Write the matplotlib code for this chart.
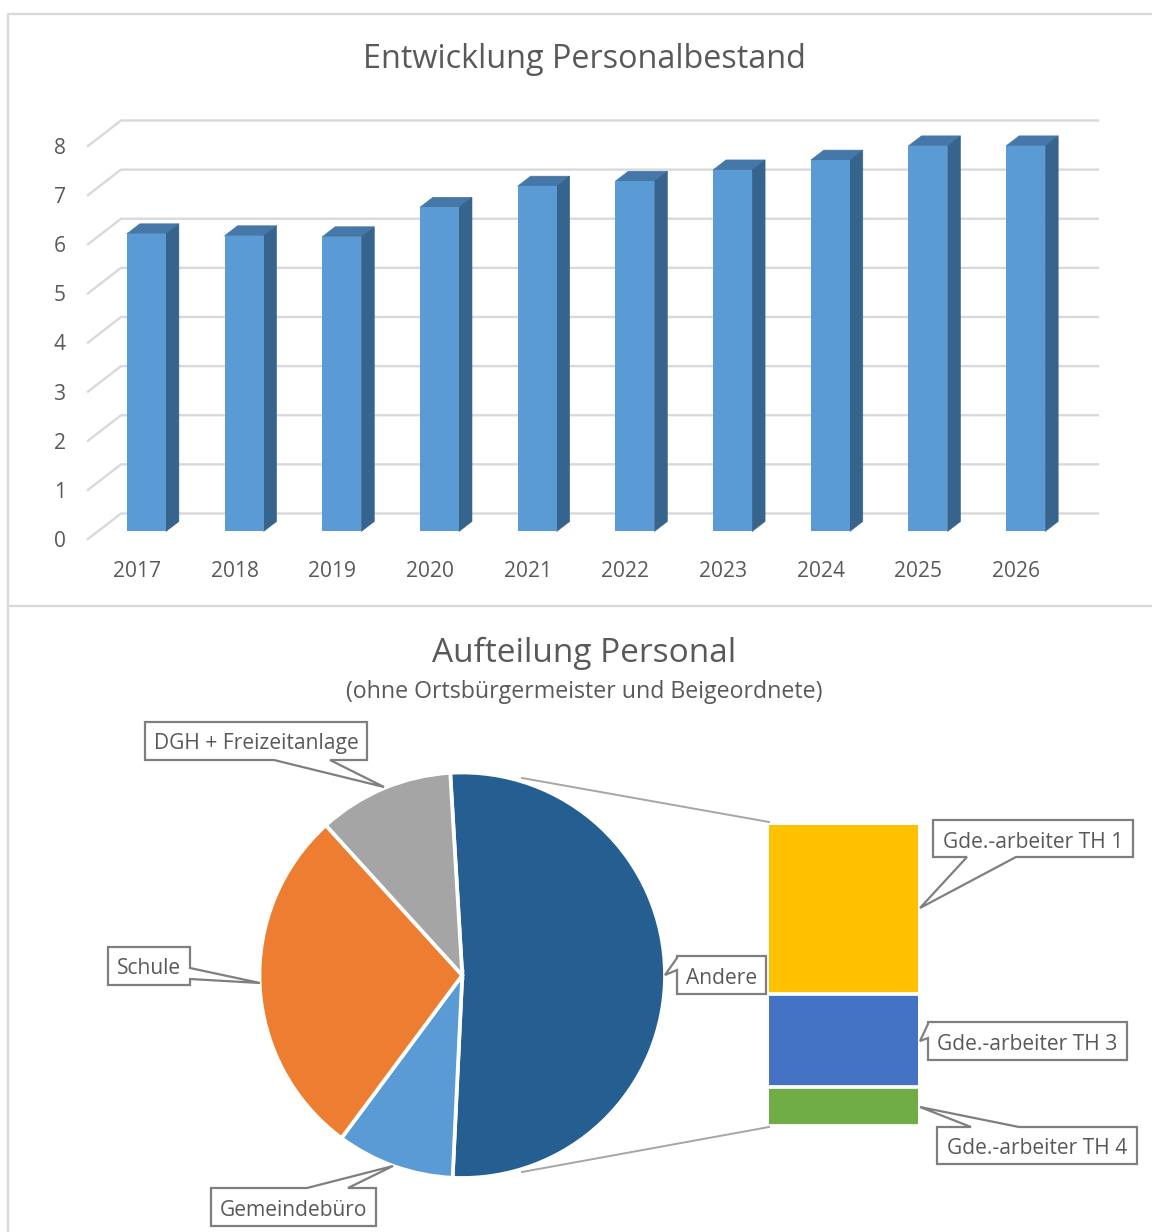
import matplotlib
matplotlib.use("Agg")
import matplotlib.pyplot as plt
from matplotlib.patches import Polygon
import numpy as np

plt.rcParams["font.family"] = ["Open Sans", "DejaVu Sans"]

years = ["2017", "2018", "2019", "2020", "2021", "2022", "2023", "2024", "2025", "2026"]
personal = [6.06, 6.02, 6.00, 6.60, 7.03, 7.13, 7.36, 7.56, 7.85, 7.85]
y_ticks = [0, 1, 2, 3, 4, 5, 6, 7, 8]

pie_labels = ["Andere", "Gemeindebüro", "Schule", "DGH + Freizeitanlage"]
pie_values = [51.7, 9.4, 28.1, 10.8]
pie_colors = ["#255E91", "#5B9BD5", "#ED7D31", "#A5A5A5"]

stack_labels = ["Gde.-arbeiter TH 1", "Gde.-arbeiter TH 3", "Gde.-arbeiter TH 4"]
stack_values = [29.0, 16.0, 6.7]
stack_colors = ["#FFC000", "#4472C4", "#70AD47"]

W, H = 1152, 1232
TEXT = "#595959"
GRID = "#D9D9D9"
CALLOUT = "#7F7F7F"
LABEL_SIZE = 15.1


def px_axes(fig, left, top, right, bottom):
    return fig.add_axes([left / W, 1 - bottom / H, (right - left) / W, (bottom - top) / H])


fig = plt.figure(figsize=(W / 100, H / 100), dpi=100, facecolor="white")

# --- Saeulen mit 3D-Optik ---
ax = px_axes(fig, 88, 146, 1065, 539)
ax.set_xlim(-0.5, 9.5)
ax.set_ylim(0, 8)
ax.patch.set_alpha(0)
for s in ax.spines.values():
    s.set_visible(False)

ux = 97.7
uy = 49.1
depth_x = 33 / ux
depth_y = 25.5 / uy
for v in y_ticks:
    ax.plot([-0.5, -0.5 + depth_x, 9.5 + depth_x], [v, v + depth_y, v + depth_y],
            color=GRID, lw=1.7, clip_on=False, zorder=1, solid_joinstyle="miter")

x = np.arange(len(years))
bar_w = 0.4
front_dx = 9.5 / ux
front_dy = 7.5 / uy
bar_dx = 13 / ux
bar_dy = 10 / uy
for xi, v in zip(x, personal):
    l = xi + front_dx - bar_w / 2
    r = xi + front_dx + bar_w / 2
    t = v + front_dy
    ax.add_patch(Polygon([(l, t), (l + bar_dx, t + bar_dy), (r + bar_dx, t + bar_dy), (r, t)],
                         closed=True, fc="#4577A8", ec="#4577A8", lw=0.4, zorder=2, clip_on=False))
    ax.add_patch(Polygon([(r, front_dy), (r + bar_dx, front_dy + bar_dy), (r + bar_dx, t + bar_dy), (r, t)],
                         closed=True, fc="#37648C", ec="#37648C", lw=0.4, zorder=2, clip_on=False))
ax.bar(x + front_dx, personal, bottom=front_dy, width=bar_w, color="#5B9BD5", zorder=3, clip_on=False)

ax.set_xticks(x, years)
ax.set_yticks(y_ticks)
ax.tick_params(axis="both", length=0, labelsize=LABEL_SIZE, labelcolor=TEXT)
ax.tick_params(axis="x", pad=15.5)
ax.tick_params(axis="y", pad=16)

# --- Kreis ---
ax2 = px_axes(fig, 259.5, 772.5, 665, 1178)
ax2.pie(pie_values, colors=pie_colors, startangle=93.4, counterclock=False, radius=1,
        wedgeprops={"edgecolor": "white", "linewidth": 2.7})
ax2.set_xlim(-1, 1)
ax2.set_ylim(-1, 1)

# --- gestapelte Saeule rechts ---
ax3 = px_axes(fig, 769, 825, 918, 1126)
ax3.set_xlim(-0.5, 0.5)
ax3.set_ylim(sum(stack_values), 0)
bottom = 0
for val, col in zip(stack_values, stack_colors):
    ax3.bar(0, val, bottom=bottom, width=1, color=col)
    bottom += val
    ax3.axhline(bottom, color="white", lw=2.7)
ax3.axis("off")

# --- Rahmen, Titel, Callouts in Pixelkoordinaten ---
ov = fig.add_axes([0, 0, 1, 1], zorder=5)
ov.set_xlim(0, W)
ov.set_ylim(H, 0)
ov.axis("off")

ov.plot([8, 8, W], [605, 14, 14], color=GRID, lw=1.6)
ov.plot([W, 8, 8], [605.5, 605.5, H], color=GRID, lw=1.6)
ov.plot([522, 769], [778, 822], color="#A6A6A6", lw=1.4)
ov.plot([522, 769], [1172, 1127], color="#A6A6A6", lw=1.4)

ov.text(584, 60, "Entwicklung Personalbestand", fontsize=23.3, color=TEXT, ha="center", va="center")
ov.text(584, 653, "Aufteilung Personal", fontsize=24, color=TEXT, ha="center", va="center")
ov.text(584, 692, "(ohne Ortsbürgermeister und Beigeordnete)", fontsize=16.7, color=TEXT, ha="center", va="center")


def callout(text, pts, cx, cy):
    ov.add_patch(Polygon(pts, closed=True, fc="white", ec=CALLOUT, lw=1.6, joinstyle="miter"))
    ov.text(cx, cy, text, fontsize=LABEL_SIZE, color=TEXT, ha="center", va="center")


callout(pie_labels[3],
        [(145, 722), (367, 722), (367, 760), (330, 760), (384, 787), (274, 760), (145, 760)], 256, 744)
callout(pie_labels[2],
        [(108, 947), (190, 947), (190, 968), (260, 983), (190, 979), (190, 985), (108, 985)], 149, 969)
callout(pie_labels[1],
        [(211, 1188), (307, 1188), (393, 1166), (348, 1188), (376, 1188), (376, 1226), (211, 1226)], 293.5, 1210)
callout(pie_labels[0],
        [(677, 956), (766, 956), (766, 994), (677, 994), (677, 970), (665, 975), (677, 958)], 721.5, 978)
callout(stack_labels[0],
        [(933, 820), (1133, 820), (1133, 857), (1016, 857), (920, 908), (967, 857), (933, 857)], 1033, 842)
callout(stack_labels[1],
        [(928, 1022), (1127, 1022), (1127, 1060), (928, 1060), (928, 1038), (920, 1041), (928, 1024)], 1027, 1044)
callout(stack_labels[2],
        [(937, 1127), (971, 1127), (920, 1107), (1019, 1127), (1137, 1127), (1137, 1164), (937, 1164)], 1037, 1149)

fig.savefig("out.png", dpi=100)
